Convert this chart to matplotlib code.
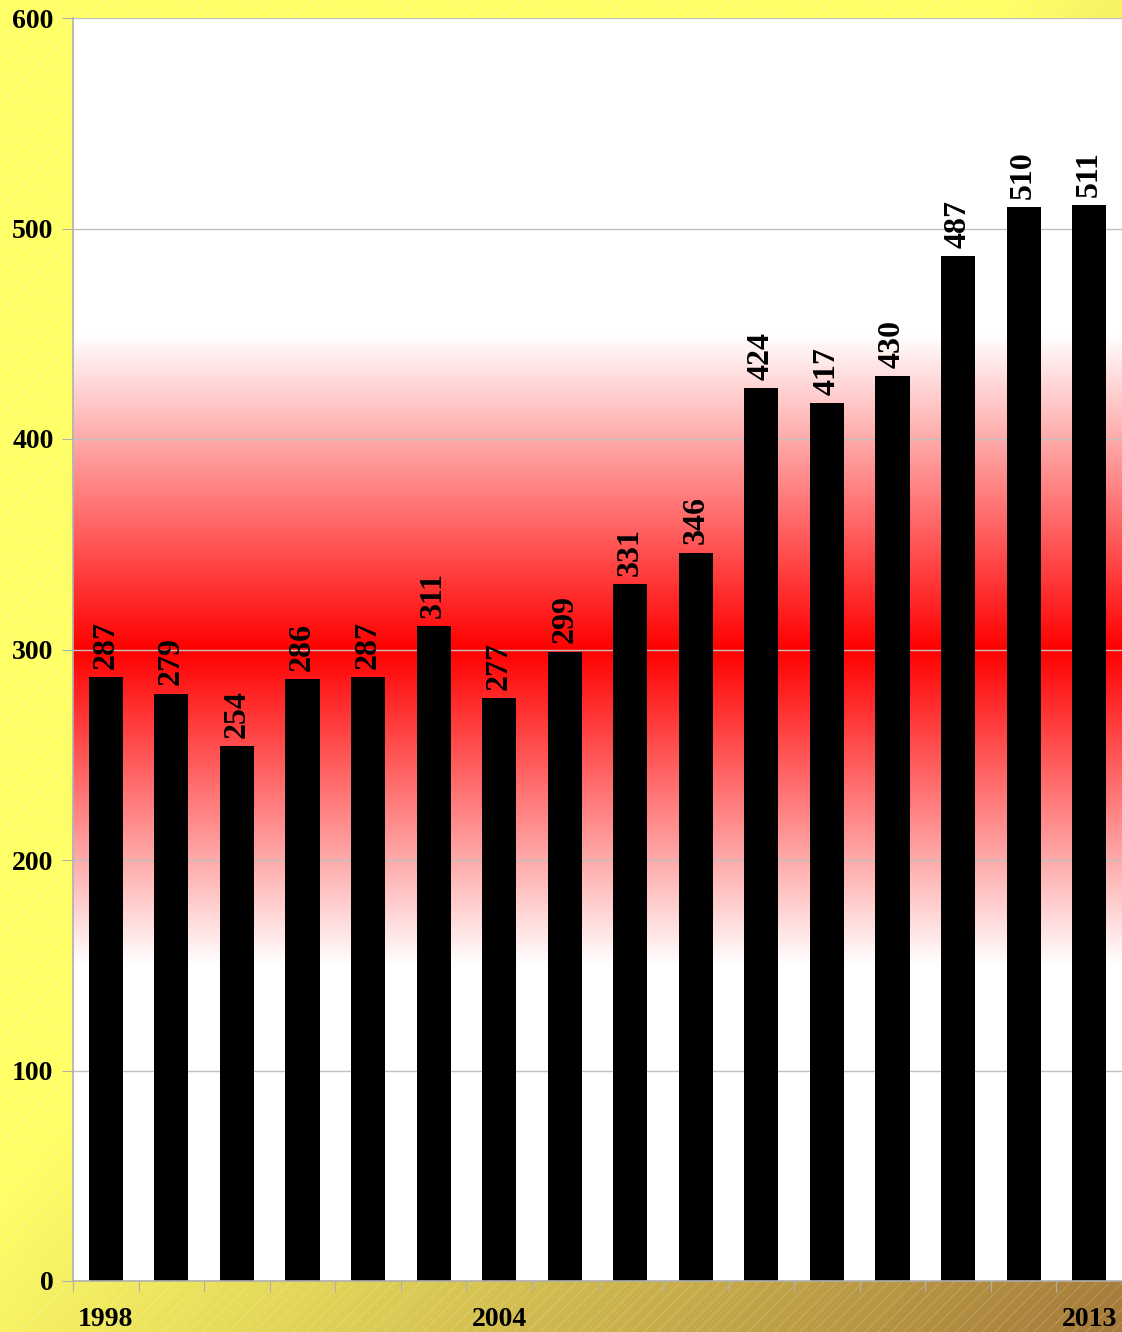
import numpy as np
import matplotlib
matplotlib.use("Agg")
import matplotlib.pyplot as plt
from matplotlib.collections import LineCollection

years = list(range(1998, 2014))
values = [287, 279, 254, 286, 287, 311, 277, 299, 331, 346, 424, 417, 430, 487, 510, 511]
shown_years = {1998: "1998", 2004: "2004", 2013: "2013"}
y_ticks = [0, 100, 200, 300, 400, 500, 600]

W, H = 1122, 1332
fig = plt.figure(figsize=(W / 100, H / 100), dpi=100)

# Figure background: yellow fading to ochre toward the lower right, with faint diagonal hatching
bg = fig.add_axes([0, 0, 1, 1], zorder=0)
bg.set_xlim(0, W)
bg.set_ylim(H, 0)
bg.axis("off")
xx, yy = np.meshgrid(np.linspace(0, 1, 300), np.linspace(0, 1, 300))
t = (xx + yy) / 2
t = np.clip((t - 0.45) / 0.55, 0, 1)
c0 = np.array([255, 255, 102]) / 255
c1 = np.array([165, 122, 58]) / 255
img = c0[None, None, :] * (1 - t[..., None]) + c1[None, None, :] * t[..., None]
bg.imshow(img, extent=[0, W, H, 0], aspect="auto", interpolation="bilinear")
segs = []
for k in range(-H, W + H, 13):
    segs.append([(k, H), (k + H, 0)])
bg.add_collection(LineCollection(segs, colors="white", linewidths=0.6, alpha=0.22))

ax = fig.add_axes([73 / W, 51 / H, (W - 73) / W, (1281 - 18) / H], zorder=1)
ax.set_facecolor("white")
x = np.arange(len(years))
ax.set_xlim(-0.5, len(years) - 0.5)
ax.set_ylim(0, 600)

# Red band centred on 300
vals = np.linspace(0, 600, 601)
strength = np.clip(1 - np.abs(vals - 300) / 150, 0, 1)
band = np.ones((len(vals), 1, 3))
band[:, 0, 1] = 1 - strength
band[:, 0, 2] = 1 - strength
ax.imshow(band, extent=[-0.5, len(years) - 0.5, 0, 600], origin="lower",
          aspect="auto", interpolation="bilinear", zorder=0)

ax.yaxis.grid(True, color="#c0c0c0", linewidth=1, zorder=1)
ax.set_axisbelow(True)

ax.bar(x, values, width=0.52, color="black", zorder=2)

serif = ["Liberation Serif", "DejaVu Serif"]
for xi, v in zip(x, values):
    ax.annotate(str(v), (xi, v), xytext=(0, 6), textcoords="offset points",
                rotation=90, ha="center", va="bottom", fontsize=23,
                fontweight="bold", family=serif, zorder=3)

for s in ["top", "right"]:
    ax.spines[s].set_visible(False)
for s in ["left", "bottom"]:
    ax.spines[s].set_color("#b0b0b0")
    ax.spines[s].set_linewidth(1.2)

ax.set_yticks(y_ticks)
ax.set_yticklabels([str(v) for v in y_ticks], fontsize=20, fontweight="bold", family=serif)
ax.tick_params(axis="y", direction="out", length=8, color="#b0b0b0", pad=6)

ax.set_xticks(np.arange(-0.5, len(years), 1.0))
ax.set_xticklabels([])
ax.tick_params(axis="x", direction="out", length=8, color="#b0b0b0")
for xi, yr in zip(x, years):
    if yr in shown_years:
        ax.text(xi, -38 * 600 / 1263, shown_years[yr], ha="center", va="center",
                fontsize=20, fontweight="bold", family=serif, clip_on=False)

fig.savefig("out.png", dpi=100)
